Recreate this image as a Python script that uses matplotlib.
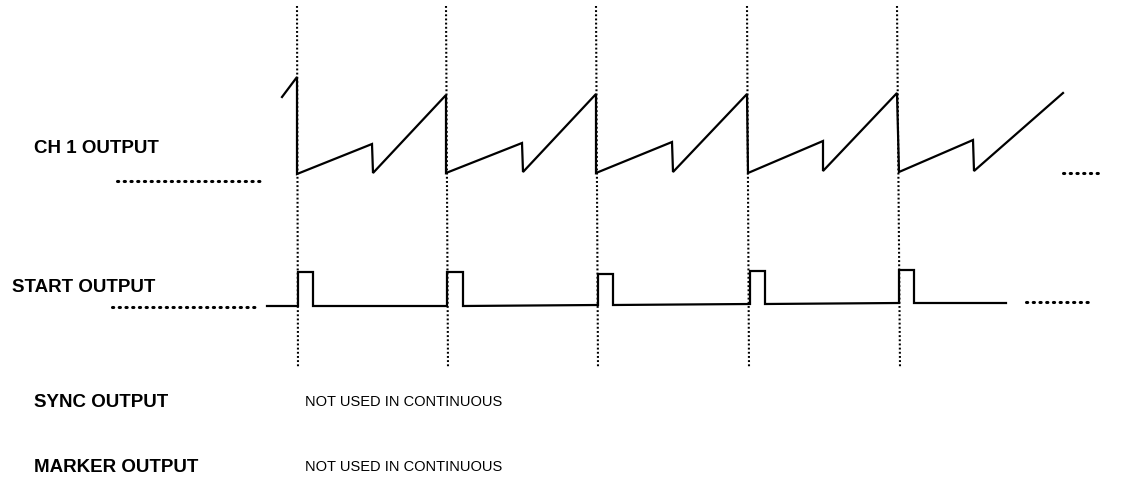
import matplotlib
matplotlib.use("Agg")
import matplotlib.pyplot as plt

# everything is in picture pixels (x to the right, y downwards)

# vertical sync markers (top x, bottom x)
marker_top_x = [297, 446, 596, 747, 897]
marker_bot_x = [298, 448, 598, 749, 900]
marker_y = [6, 367]

# CH 1 output waveform
saw_x = [282, 297, 297, 372, 373, 446, 446, 522, 523, 596, 596, 672, 673,
         747, 748, 823, 823, 897, 899, 973, 974, 1063]
saw_y = [97, 77, 174, 144, 173, 95, 173, 143, 172, 94, 173, 142, 172,
         94, 173, 141, 171, 93, 172, 140, 171, 93]

# START output pulses
pulse_rise = [298, 447, 598, 750, 899]
pulse_fall = [313, 463, 613, 765, 914]
pulse_top = [272, 272, 274, 271, 270]
pulse_base = [306, 306, 305, 304, 303]
start_begin = 267
start_end = 1006

labels = ["CH 1 OUTPUT", "START OUTPUT", "SYNC OUTPUT", "MARKER OUTPUT"]
label_x = [34, 12, 34, 34]
label_y = [148, 287, 402, 467]
note_text = "NOT USED IN CONTINUOUS"
note_y = [402, 467]

fig = plt.figure(figsize=(11.31, 4.86), dpi=100)
ax = fig.add_axes([0, 0, 1, 1])
ax.set_xlim(0, 1131)
ax.set_ylim(486, 0)
ax.axis("off")

for xt, xb in zip(marker_top_x, marker_bot_x):
    ax.plot([xt, xb], marker_y, color="black", lw=1.5,
            linestyle=(0, (0.9, 1.1)))

ax.plot(saw_x, saw_y, color="black", lw=1.6, solid_joinstyle="miter")

# build the step trace for the start output
px = [start_begin]
py = [pulse_base[0]]
for r, f, t, b in zip(pulse_rise, pulse_fall, pulse_top, pulse_base):
    px += [r, r, f, f]
    py += [b, t, t, b]
px.append(start_end)
py.append(pulse_base[-1])
ax.plot(px, py, color="black", lw=1.6, solid_joinstyle="miter")

# dotted continuation lines
dot_style = dict(color="black", lw=2.2, linestyle=(0, (0.4, 1.8)),
                 dash_capstyle="round")
ax.plot([117, 260], [181, 181], **dot_style)
ax.plot([1063, 1098], [173, 173], **dot_style)
ax.plot([112, 257], [307, 307], **dot_style)
ax.plot([1026, 1092], [302, 302], **dot_style)

for lab, x, y in zip(labels, label_x, label_y):
    ax.text(x, y, lab, ha="left", va="center", fontsize=13.5,
            fontweight="bold", family="Liberation Sans")

for y in note_y:
    ax.text(305, y, note_text, ha="left", va="center", fontsize=10.5,
            family="Liberation Sans")

fig.savefig("out.png", dpi=100)
